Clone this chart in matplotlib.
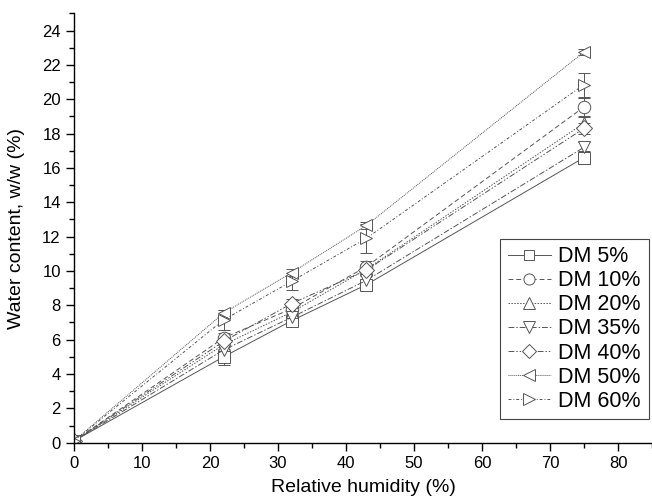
import matplotlib.pyplot as plt
from matplotlib.lines import Line2D
from matplotlib.ticker import MultipleLocator

plt.rcParams['font.family'] = ['Liberation Sans', 'DejaVu Sans']

umidade = [0, 22, 32, 43, 75]

series = ["DM 5%", "DM 10%", "DM 20%", "DM 35%", "DM 40%", "DM 50%", "DM 60%"]

agua = [
    [0.1, 5.0, 7.1, 9.2, 16.6],
    [0.1, 6.1, 7.8, 10.25, 19.55],
    [0.1, 5.7, 7.6, 10.1, 18.6],
    [0.1, 5.4, 7.3, 9.45, 17.2],
    [0.1, 5.9, 8.1, 10.05, 18.3],
    [0.1, 7.55, 9.9, 12.65, 22.75],
    [0.1, 7.15, 9.4, 11.9, 20.85],
]

erro = [
    [0.05, 0.45, 0.3, 0.25, 0.4],
    [0.05, 0.3, 0.3, 0.35, 0.5],
    [0.05, 0.3, 0.25, 0.3, 0.35],
    [0.05, 0.3, 0.25, 0.25, 0.3],
    [0.05, 0.3, 0.25, 0.3, 0.3],
    [0.05, 0.2, 0.2, 0.2, 0.15],
    [0.05, 0.6, 0.5, 0.85, 0.7],
]

marcadores = ['s', 'o', '^', 'v', 'D', '<', '>']
estilos = ['-', (0, (5, 3)), (0, (1.5, 1.5)), (0, (6, 2, 1.5, 2)),
           (0, (6, 2, 1.5, 2, 1.5, 2)), (0, (1, 1)), (0, (3, 2, 1, 2))]
tamanhos = [8, 9, 9, 9, 8, 9, 9]
cor = '#555555'

fig = plt.figure(figsize=(6.52, 5.01), dpi=100)
ax = fig.add_axes([0.1135, 0.1164, 0.8865, 0.857])

alcas = []
for nome, y, e, m, ls, ms in zip(series, agua, erro, marcadores, estilos, tamanhos):
    ax.errorbar(umidade, y, yerr=e, color=cor, linestyle=ls, linewidth=0.7,
                marker=m, markersize=ms, markerfacecolor='white',
                markeredgecolor=cor, markeredgewidth=0.7,
                ecolor=cor, elinewidth=0.7, capsize=4, capthick=0.7)
    alcas.append(Line2D([], [], color=cor, linestyle=ls, linewidth=0.7,
                        marker=m, markersize=ms - 1, markerfacecolor='white',
                        markeredgecolor=cor, markeredgewidth=0.7, label=nome))

ax.set_xlim(0, 85)
ax.set_ylim(0, 25)
ax.xaxis.set_major_locator(MultipleLocator(10))
ax.xaxis.set_minor_locator(MultipleLocator(5))
ax.yaxis.set_major_locator(MultipleLocator(2))
ax.yaxis.set_minor_locator(MultipleLocator(1))

ax.spines['top'].set_visible(False)
ax.spines['right'].set_visible(False)
ax.spines['left'].set_linewidth(1.0)
ax.spines['bottom'].set_linewidth(1.0)
ax.tick_params(which='major', direction='out', length=6, width=1.0, labelsize=12)
ax.tick_params(which='minor', direction='out', length=3.5, width=1.0)

ax.set_xlabel("Relative humidity (%)", fontsize=14, labelpad=6)
ax.set_ylabel("Water content, w/w (%)", fontsize=14, labelpad=12)

leg = ax.legend(handles=alcas, loc='lower right', bbox_to_anchor=(0.994, 0.055),
                borderaxespad=0, fontsize=15.5, frameon=True, fancybox=False,
                edgecolor='#444444', framealpha=1, handlelength=2.0,
                handletextpad=0.35, labelspacing=0.14, borderpad=0.35)
leg.get_frame().set_linewidth(0.8)

fig.savefig("out.png", dpi=100)
